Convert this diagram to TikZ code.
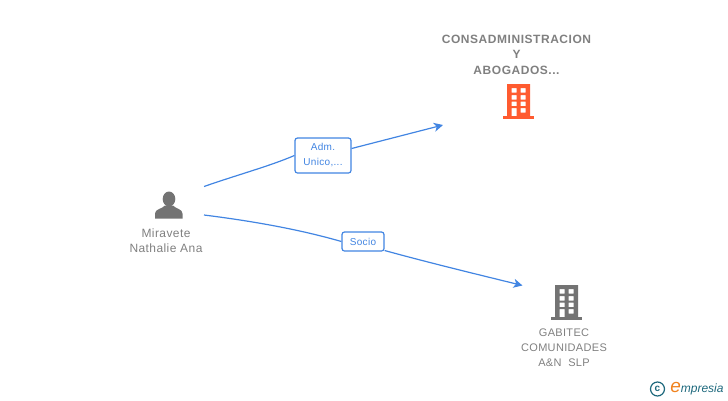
\documentclass[tikz,border=0pt]{standalone}
\usepackage{fontspec}
\setmainfont{Liberation Sans}
\usetikzlibrary{positioning, arrows.meta}
\definecolor{linkblue}{RGB}{66,133,226}
\definecolor{labelgray}{RGB}{128,128,128}
\definecolor{icongray}{RGB}{115,115,115}
\definecolor{iconred}{RGB}{255,91,48}
\definecolor{logoteal}{RGB}{30,105,125}
\definecolor{logoorange}{RGB}{240,130,30}
\tikzset{
	linkline/.style = {draw=linkblue, line width=1.2pt},
	linkbox/.style = {draw=linkblue, line width=1.2pt, rounded corners=2.5pt, fill=white, text=linkblue, font=\fontsize{10}{15}\selectfont\addfontfeatures{LetterSpace=3}, align=center, inner sep=0pt},
	namelabel/.style = {text=labelgray, font=\fontsize{12}{15}\selectfont\addfontfeatures{LetterSpace=3.5}, align=center, inner sep=0pt},
	smalllabel/.style = {text=labelgray, font=\fontsize{11}{15}\selectfont\addfontfeatures{LetterSpace=3}, align=center, inner sep=0pt},
	titlelabel/.style = {text=labelgray, font=\fontsize{12}{15.5}\selectfont\bfseries\addfontfeatures{LetterSpace=4.5}, align=center, inner sep=0pt},
	pics/building/.style = {code = {
		\fill [#1, even odd rule] (-11.5,-17) rectangle (11.5,15)
			\foreach \yw in {-13,-6,0.5} {(-7,\yw) rectangle (-2,\yw+4.5) (2,\yw) rectangle (7,\yw+4.5)}
			(2,7) rectangle (7,11.5)
			(-7,7) rectangle (-2,15);
		\fill [#1] (-15.5,15) rectangle (15.5,17.5);
	}},
}
\begin{document}
\begin{tikzpicture}[x=1pt, y=-1pt]
	\useasboundingbox (0,0) rectangle (728,400);

	% person
	\fill [icongray] (169,199) ellipse (6.3 and 7.5);
	\fill [icongray] (155,218.5) -- (155,213.5) .. controls (155,209) and (162,209) .. (165,205.5)
		-- (173,205.5) .. controls (176,209) and (182.5,209) .. (182.5,213.5) -- (182.5,218.5) -- cycle;
	\node [namelabel] (person) at (166,240.5) {Miravete\\Nathalie Ana};

	% companies
	\node [titlelabel] (consad) at (516.5,54.5) {CONSADMINISTRACION\\Y\\ABOGADOS...};
	\pic at (518.5,101) {building=iconred};
	\pic at (566.5,302) {building=icongray};
	\node [smalllabel] (gabitec) at (564,348) {GABITEC\\COMUNIDADES\\A\&N\ \ SLP};

	% link ends
	\coordinate (personup) at (204,186.5);
	\coordinate (persondown) at (204,215);
	\coordinate (consadin) at (443,125);
	\coordinate (gabitecin) at (522.5,285.5);

	\node [linkbox, minimum width=56pt, minimum height=35pt] (adm) at (323,155.5) {Adm.\\Unico,...};
	\node [linkbox, minimum width=42pt, minimum height=19pt] (socio) at (363,241.5) {Socio};

	\draw [linkline] (personup) .. controls (240,174) and (270,166) .. (adm.west);
	\draw [linkline] (persondown) .. controls (260,222) and (305,231) .. (socio.west);
	\begin{scope}[-{Stealth[length=9pt, width=9pt, inset=2.5pt]}]
		\draw [linkline] (adm.east) ++(0,-7) -- (consadin);
		\draw [linkline] (socio.east) ++(0,9) .. controls (430,263) and (480,275) .. (gabitecin);
	\end{scope}

	% logo
	\node [draw=logoteal, line width=1.2pt, circle, minimum size=14pt, inner sep=0pt, text=logoteal, font=\fontsize{10}{10}\selectfont\bfseries] (copyr) at (657.5,389) {c};
	\node [right=5pt of copyr, inner sep=0pt, text=logoteal, font=\fontsize{12}{12}\selectfont\itshape] (brand) {{\color{logoorange}\fontsize{19}{19}\selectfont e}mpresia};
\end{tikzpicture}
\end{document}
